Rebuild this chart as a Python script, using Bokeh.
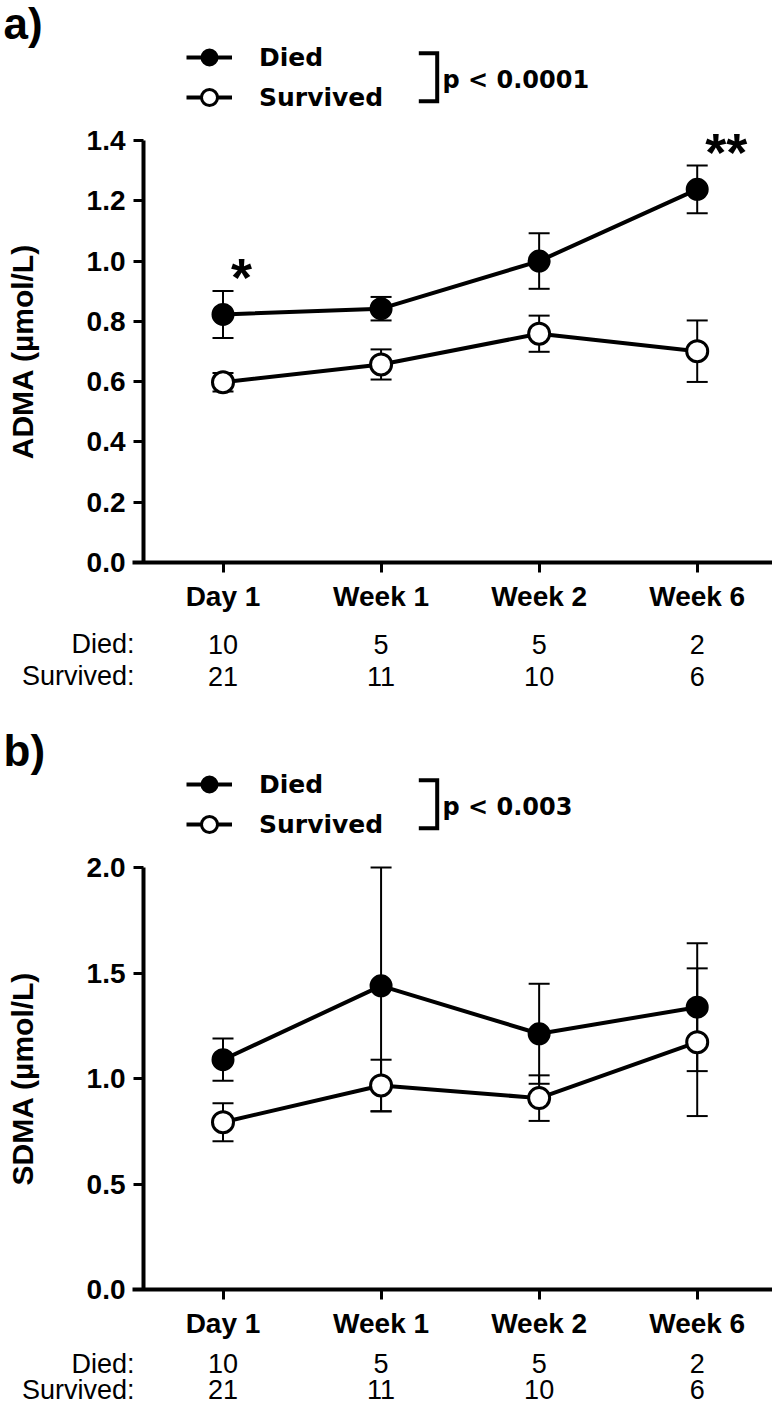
from bokeh.plotting import figure
from bokeh.models import (ColumnDataSource, LinearAxis, FixedTicker, PrintfTickFormatter,
                          Range1d, Whisker, TeeHead, Legend, LegendItem)
from bokeh.layouts import column
from bokeh.embed import file_html
from bokeh.resources import INLINE
from bokeh.core.properties import value

# ---------------- data ----------------
categories = ["Day 1", "Week 1", "Week 2", "Week 6"]
n_died = [10, 5, 5, 2]
n_survived = [21, 11, 10, 6]

adma_died = [0.823, 0.842, 1.000, 1.238]
adma_died_sem = [0.078, 0.039, 0.092, 0.079]
adma_surv = [0.598, 0.657, 0.759, 0.701]
adma_surv_sem = [0.031, 0.050, 0.060, 0.102]
adma_sig = ["*", "", "", "**"]
adma_ticks = [0.0, 0.2, 0.4, 0.6, 0.8, 1.0, 1.2, 1.4]
adma_p = "p < 0.0001"

sdma_died = [1.089, 1.439, 1.212, 1.338]
sdma_died_sem = [0.100, 0.595, 0.237, 0.303]
sdma_surv = [0.793, 0.967, 0.907, 1.172]
sdma_surv_sem = [0.090, 0.122, 0.108, 0.350]
sdma_sig = ["", "", "", ""]
sdma_ticks = [0.0, 0.5, 1.0, 1.5, 2.0]
sdma_p = "p < 0.003"

# ---------------- layout (pixels) ----------------
W = 772
X0, DX = 222.5, 158.07       # first category centre, category spacing
YAX = 143                    # y-axis line
Y0, YTOP = 562, 140          # y = 0 line, top tick line
BOLD = "Liberation Sans"
LEG = "DejaVu Sans"


def make_panel(tag, ylabel, died, died_sem, surv, surv_sem, sig, ticks, pval, H, count_off):
    ymax = ticks[-1]
    sc = (Y0 - YTOP) / ymax
    xr = Range1d((0 - X0) / DX, (W - X0) / DX)
    yr = Range1d(-(H - Y0) / sc, Y0 / sc)
    p = figure(width=W, height=H, x_range=xr, y_range=yr,
               x_axis_type=None, y_axis_type=None,
               toolbar_location=None, output_backend="svg",
               min_border=0, outline_line_color=None)
    p.extra_x_ranges = {"px": Range1d(0, W)}
    p.extra_y_ranges = {"px": Range1d(H, 0)}

    xloc = (YAX - X0) / DX
    xstart = (YAX - 11 - X0) / DX

    yaxis = LinearAxis(fixed_location=xloc, bounds=(0, ymax),
                       ticker=FixedTicker(ticks=ticks),
                       formatter=PrintfTickFormatter(format="%.1f"),
                       axis_label=ylabel)
    yaxis.axis_line_width = 4
    yaxis.major_tick_line_width = 3
    yaxis.major_tick_out = 10
    yaxis.major_tick_in = 0
    yaxis.minor_tick_line_color = None
    yaxis.major_label_standoff = 8
    yaxis.major_label_text_font = BOLD
    yaxis.major_label_text_font_style = "bold"
    yaxis.major_label_text_font_size = "28px"
    yaxis.major_label_text_color = "black"
    yaxis.axis_label_text_font = BOLD
    yaxis.axis_label_text_font_style = "bold"
    yaxis.axis_label_text_font_size = "30px"
    yaxis.axis_label_text_color = "black"
    yaxis.axis_label_standoff = 45
    p.add_layout(yaxis, "left")

    xaxis = LinearAxis(fixed_location=0, bounds=(xstart, xr.end),
                       ticker=FixedTicker(ticks=list(range(len(categories)))),
                       major_label_overrides={i: c for i, c in enumerate(categories)})
    xaxis.axis_line_width = 4
    xaxis.major_tick_line_width = 3
    xaxis.major_tick_out = 10
    xaxis.major_tick_in = 0
    xaxis.minor_tick_line_color = None
    xaxis.major_label_standoff = 8
    xaxis.major_label_text_font = BOLD
    xaxis.major_label_text_font_style = "bold"
    xaxis.major_label_text_font_size = "28px"
    xaxis.major_label_text_color = "black"
    p.add_layout(xaxis, "below")

    idx = list(range(len(categories)))
    src_d = ColumnDataSource(dict(
        x=idx, y=died,
        upper=[min(m + e, ymax) for m, e in zip(died, died_sem)],
        lower=[m - e for m, e in zip(died, died_sem)], sig=sig))
    src_s = ColumnDataSource(dict(
        x=idx, y=surv,
        upper=[min(m + e, ymax) for m, e in zip(surv, surv_sem)],
        lower=[m - e for m, e in zip(surv, surv_sem)]))

    for src in (src_d, src_s):
        p.add_layout(Whisker(source=src, base="x", upper="upper", lower="lower",
                             line_width=2, line_color="black",
                             upper_head=TeeHead(size=21, line_width=2, line_color="black"),
                             lower_head=TeeHead(size=21, line_width=2, line_color="black")))

    ld = p.line("x", "y", source=src_d, line_width=4, line_color="black")
    ls = p.line("x", "y", source=src_s, line_width=4, line_color="black")
    sd = p.scatter("x", "y", source=src_d, size=21, marker="circle",
                   fill_color="black", line_color="black", line_width=2)
    ss = p.scatter("x", "y", source=src_s, size=21, marker="circle",
                   fill_color="white", line_color="black", line_width=3)

    # significance stars
    p.text("x", "upper", text="sig", source=src_d, x_offset=8, y_offset=-14,
           text_align="left", text_baseline="middle",
           text_font=value(BOLD), text_font_style="bold", text_font_size="54px",
           text_color="black")

    # n per group below the axis
    d_off, s_off = count_off
    for off, vals in ((d_off, n_died), (s_off, n_survived)):
        p.text(x=idx, y=[0] * len(idx), text=[str(v) for v in vals], y_offset=off,
               text_align="center", text_baseline="middle",
               text_font=value(BOLD), text_font_size="27px", text_color="black")
    p.text(x=[xloc], y=[0], text=["Died:"], x_offset=-9, y_offset=d_off,
           text_align="right", text_baseline="middle",
           text_font=value(BOLD), text_font_size="27px", text_color="black")
    p.text(x=[xloc], y=[0], text=["Survived:"], x_offset=-9, y_offset=s_off,
           text_align="right", text_baseline="middle",
           text_font=value(BOLD), text_font_size="27px", text_color="black")

    # legend
    legend = Legend(items=[LegendItem(label="Died", renderers=[ld, sd]),
                           LegendItem(label="Survived", renderers=[ls, ss])],
                    location=(186, H - 117.3), orientation="vertical",
                    margin=0, padding=0, spacing=0,
                    glyph_width=46, glyph_height=40, label_height=40,
                    label_standoff=27,
                    label_text_font=LEG, label_text_font_style="bold",
                    label_text_font_size="25px", label_text_color="black",
                    border_line_color=None, background_fill_alpha=0)
    p.add_layout(legend)

    # bracket + p value
    p.line(x=[418.3, 436.7, 436.7, 418.3], y=[52.7, 52.7, 100.7, 100.7],
           x_range_name="px", y_range_name="px", line_width=4,
           line_color="black", line_join="miter")
    p.text(x=[442], y=[79], text=[pval], x_range_name="px", y_range_name="px",
           text_align="left", text_baseline="middle",
           text_font=value(LEG), text_font_style="bold", text_font_size="24px",
           text_color="black")

    # panel tag
    p.text(x=[3], y=[22.5], text=[tag], x_range_name="px", y_range_name="px",
           text_align="left", text_baseline="middle",
           text_font=value(BOLD), text_font_style="bold", text_font_size="44px",
           text_color="black")
    return p


pa = make_panel("a)", "ADMA (µmol/L)", adma_died, adma_died_sem, adma_surv,
                adma_surv_sem, adma_sig, adma_ticks, adma_p, 727, (81.5, 113.5))
pb = make_panel("b)", "SDMA (µmol/L)", sdma_died, sdma_died_sem, sdma_surv,
                sdma_surv_sem, sdma_sig, sdma_ticks, sdma_p, 679, (74, 100))

layout = column(pa, pb, spacing=0)
open("out.html", "w").write(file_html(layout, INLINE))
